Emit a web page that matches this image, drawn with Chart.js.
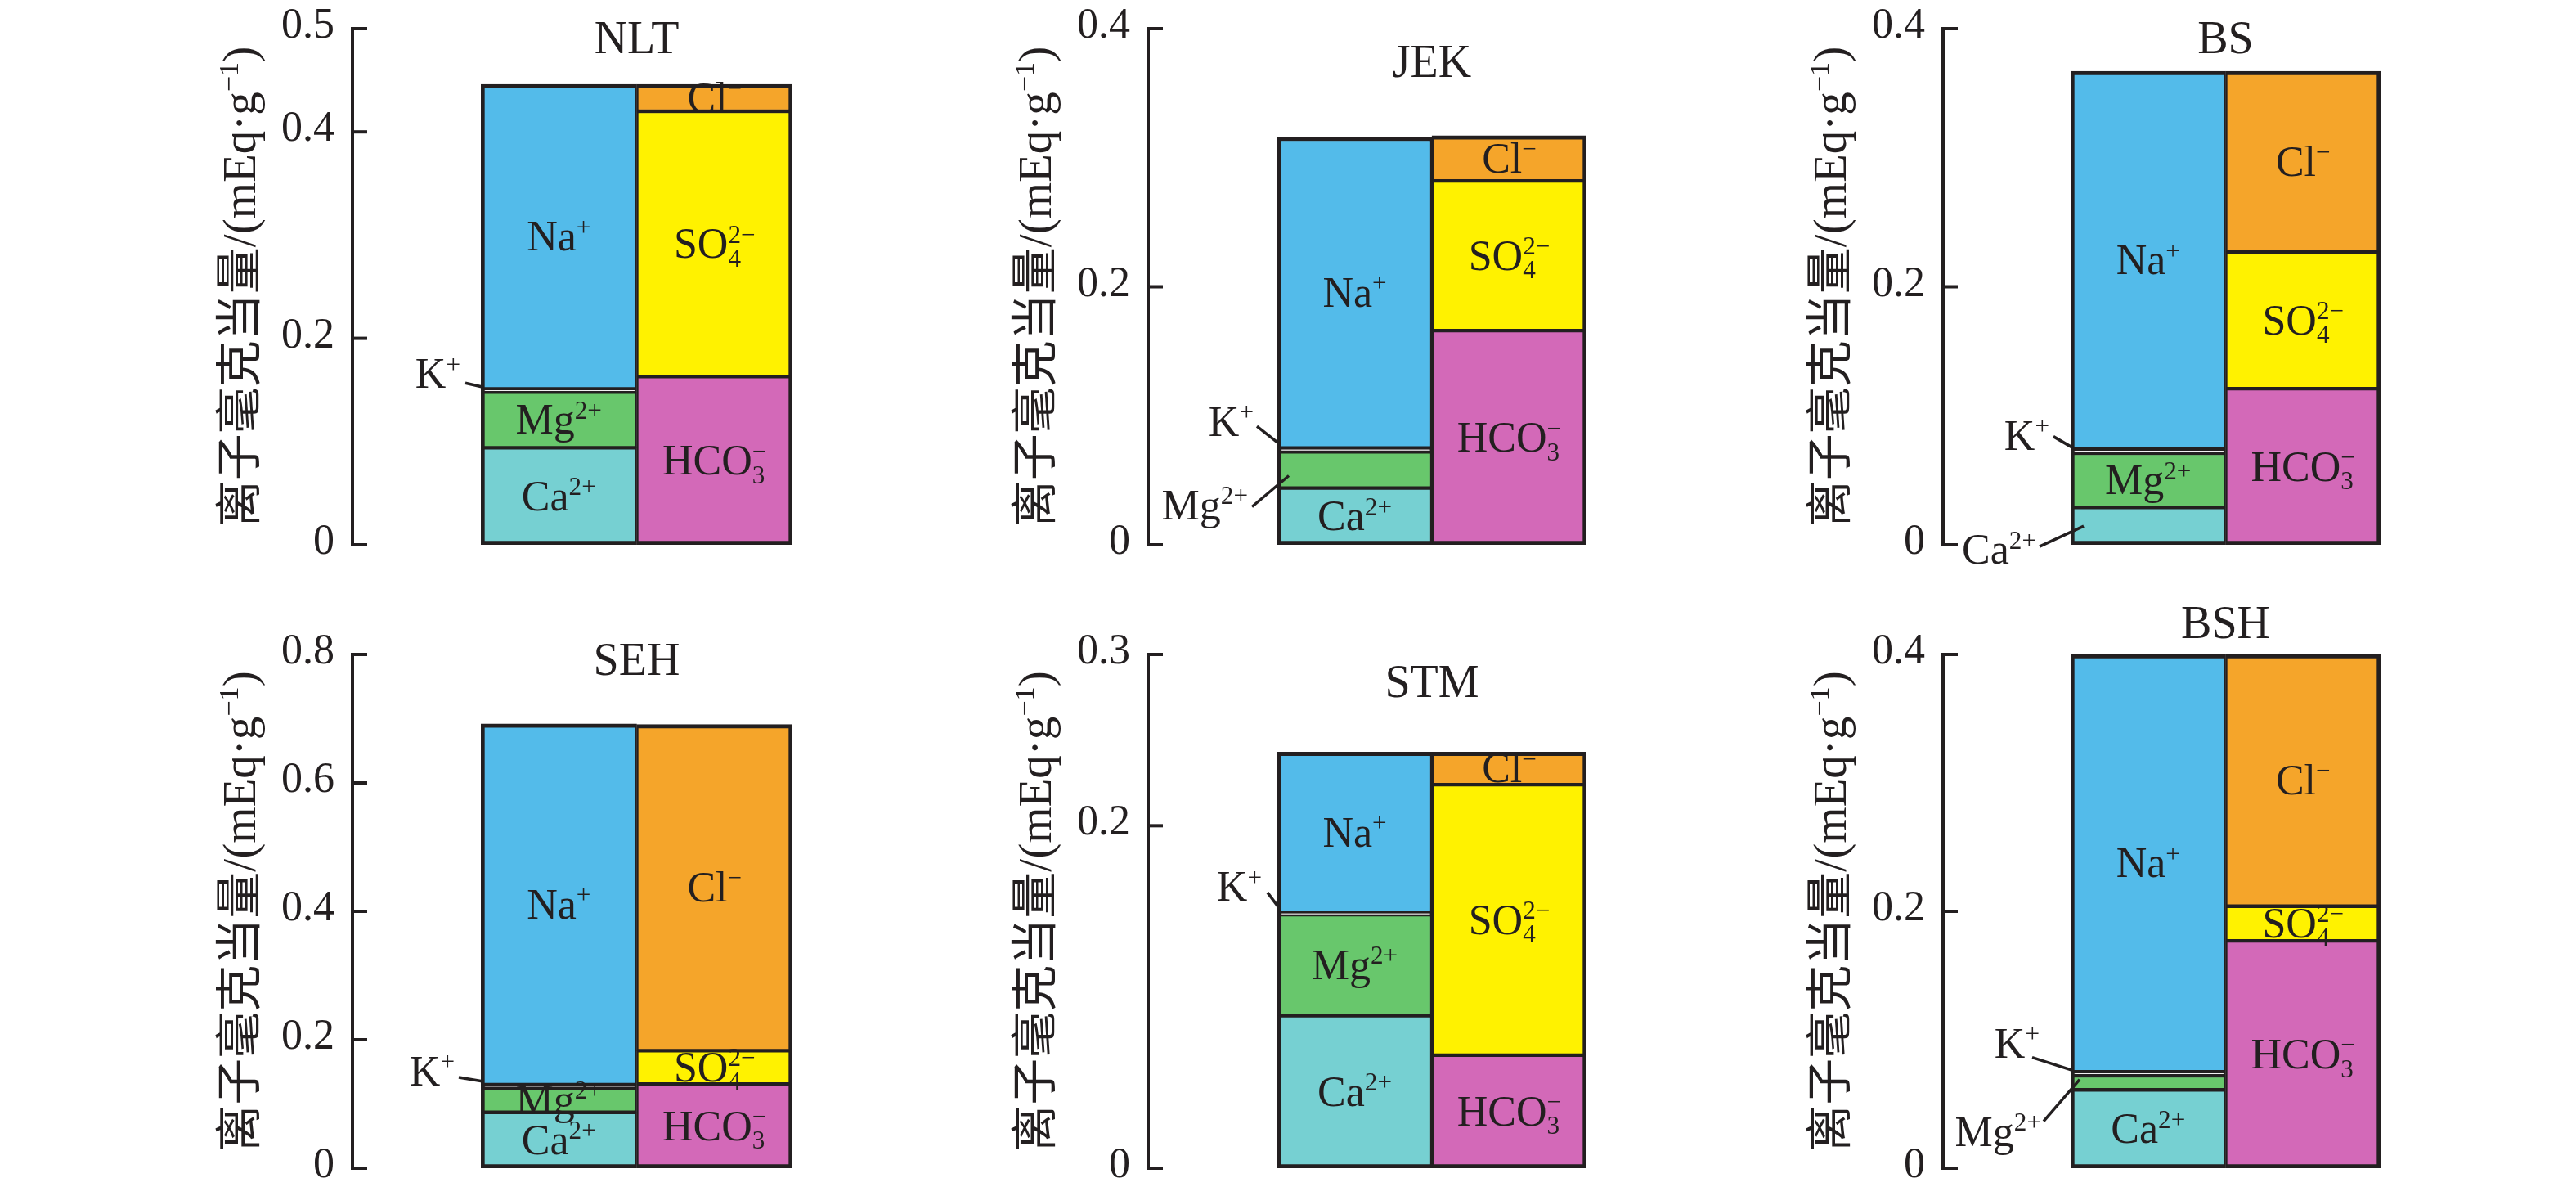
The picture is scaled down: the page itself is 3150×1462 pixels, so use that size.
<!DOCTYPE html>
<html>
<head>
<meta charset="utf-8">
<script src="https://cdn.jsdelivr.net/npm/chart.js@4.4.1/dist/chart.umd.min.js"></script>
<style>
  html, body { margin: 0; padding: 0; background: #fff; }
  #wrap { position: relative; width: 3150px; height: 1462px; }
  #wrap canvas { position: absolute; }
</style>
</head>
<body>
<div id="wrap"></div>
<script>
// one panel per site
const sites = ['NLT', 'JEK', 'BS', 'SEH', 'STM', 'BSH'];

// cations, bottom to top (mEq/g)
const ca = [0.094, 0.044, 0.029, 0.087, 0.089, 0.061];
const mg = [0.054, 0.028, 0.042, 0.038, 0.059, 0.011];
const k  = [0.003, 0.003, 0.003, 0.005, 0.001, 0.003];
const na = [0.295, 0.241, 0.293, 0.562, 0.094, 0.325];

// anions, bottom to top (mEq/g)
const hco3 = [0.163, 0.166, 0.121, 0.131, 0.066, 0.177];
const so4  = [0.257, 0.116, 0.106, 0.052, 0.158, 0.027];
const cl   = [0.026, 0.035, 0.140, 0.508, 0.019, 0.196];

// y tick labels of each panel
const yTicks = [
  [0, 0.2, 0.4, 0.5],
  [0, 0.2, 0.4],
  [0, 0.2, 0.4],
  [0, 0.2, 0.4, 0.6, 0.8],
  [0, 0.2, 0.3],
  [0, 0.2, 0.4]
];

const ionKeys  = ['Ca', 'Mg', 'K', 'Na', 'HCO3', 'SO4', 'Cl'];
const ionNames = ['Ca^{2+}', 'Mg^{2+}', 'K^{+}', 'Na^{+}', 'HCO_{3}^{\u2212}', 'SO_{4}^{2\u2212}', 'Cl^{\u2212}'];
const colors   = ['#76d0d2', '#68c76c', '#ffffff', '#53bbea', '#d369b8', '#fff200', '#f5a52a'];
const yTitle = '离子毫克当量/(mEq·g^{\u22121})';
const ink = '#231f20';

// page layout of each panel (pixels)
const boxes = [
  { axisX: 431,  left: 588,  right: 969,  top: 35,  zero: 666,  titleY: 47 },
  { axisX: 1404, left: 1562, right: 1940, top: 35,  zero: 666,  titleY: 76 },
  { axisX: 2376, left: 2532, right: 2911, top: 35,  zero: 666,  titleY: 47 },
  { axisX: 431,  left: 588,  right: 969,  top: 800, zero: 1428, titleY: 807 },
  { axisX: 1404, left: 1562, right: 1940, top: 800, zero: 1428, titleY: 834 },
  { axisX: 2376, left: 2532, right: 2911, top: 800, zero: 1428, titleY: 762 }
];

// labels placed outside the bar with a leader line:
// [text right dx, text dy, line from dx, dy, line to dx, dy] from the bar's left edge at segment middle
const callouts = [
  { K: [-25, -20, -19, -9, 3, -4] },
  { K: [-29, -34, -25, -29, 3, -7], Mg: [-36, 43, -31, 45, 14, 7] },
  { K: [-26, -19, -21, -18, 3, -4], Ca: [-42, 29, -38, 25, 16, 0] },
  { K: [-32, -18, -27, -11, 3, -6] },
  { K: [-19, -33, -12, -26, 3, -6] },
  { K: [-38, -37, -47, -20, 3, -4], Mg: [-36, 60, -33, 47, 11, -4] }
];

function font(size) {
  return size + 'px "Liberation Serif", "Noto Sans CJK SC", serif';
}

// tiny markup: ^{..} superscript, _{..} subscript (stacked if adjacent)
function layoutRich(ctx, s, size) {
  const re = /([\^_])\{([^}]*)\}|([^\^_]+)/g;
  let m, x = 0, prev = null, sStart = 0, sW = 0;
  const items = [];
  while ((m = re.exec(s))) {
    if (m[3] !== undefined) {
      ctx.font = font(size);
      items.push({ t: m[3], x: x, dy: 0, size: size });
      x += ctx.measureText(m[3]).width;
      prev = null;
    } else {
      const kind = m[1] === '^' ? 'sup' : 'sub';
      const ss = size * 0.6;
      ctx.font = font(ss);
      const w = ctx.measureText(m[2]).width;
      let sx = x;
      if (prev && prev !== kind) {
        sx = sStart;
        x = sStart + Math.max(sW, w);
      } else {
        sStart = x; sW = w; x += w;
      }
      items.push({ t: m[2], x: sx, dy: kind === 'sup' ? -size * 0.36 : size * 0.2, size: ss });
      prev = kind;
    }
  }
  return { items: items, width: x };
}

function drawRich(ctx, s, x, y, size, align) {
  const L = layoutRich(ctx, s, size);
  let x0 = x;
  if (align === 'center') x0 = x - L.width / 2;
  if (align === 'right') x0 = x - L.width;
  const base = y + size * 0.33;
  ctx.textAlign = 'left';
  ctx.textBaseline = 'alphabetic';
  L.items.forEach(function (it) {
    ctx.font = font(it.size);
    ctx.fillText(it.t, x0 + it.x, base + it.dy);
  });
}

function makePlugin(p) {
  const b = boxes[p];
  return {
    id: 'ionPanel' + p,
    afterDatasetsDraw: function (chart) {
      const ctx = chart.ctx;
      const ys = chart.scales.y;
      const area = chart.chartArea;
      const ax = area.left - (b.left - b.axisX);
      const ticks = yTicks[p];
      ctx.save();
      ctx.strokeStyle = ink;
      ctx.fillStyle = ink;
      ctx.lineWidth = 4;

      // axis with inward ticks
      const yMin = ys.getPixelForValue(ticks[0]);
      const yMax = ys.getPixelForValue(ticks[ticks.length - 1]);
      ctx.beginPath();
      ctx.moveTo(ax, yMin + 2);
      ctx.lineTo(ax, yMax - 2);
      ctx.stroke();
      ticks.forEach(function (v) {
        const ty = ys.getPixelForValue(v);
        ctx.beginPath();
        ctx.moveTo(ax - 2, ty);
        ctx.lineTo(ax + 18, ty);
        ctx.stroke();
        drawRich(ctx, String(v), ax - 22, ty - 6, 52, 'right');
      });

      // rotated axis title
      ctx.save();
      ctx.translate(ax - 138, (yMin + yMax) / 2);
      ctx.rotate(-Math.PI / 2);
      drawRich(ctx, yTitle, 0, 0, 57, 'center');
      ctx.restore();

      // site name over the divider
      const mid = (area.left + area.right) / 2;
      drawRich(ctx, sites[p], mid, b.titleY - (b.top - area.top), 56, 'center');

      // segment labels
      chart.data.datasets.forEach(function (ds, i) {
        const idx = i < 4 ? 0 : 1;
        const el = chart.getDatasetMeta(i).data[idx];
        if (!el) return;
        const cy = (el.y + el.base) / 2;
        const co = callouts[p][ionKeys[i]];
        if (co) {
          const x0 = el.x - el.width / 2;
          ctx.lineWidth = 3.5;
          ctx.beginPath();
          ctx.moveTo(x0 + co[2], cy + co[3]);
          ctx.lineTo(x0 + co[4], cy + co[5]);
          ctx.stroke();
          drawRich(ctx, ionNames[i], x0 + co[0], cy + co[1], 52, 'right');
        } else {
          drawRich(ctx, ionNames[i], el.x, cy, 52, 'center');
        }
      });
      ctx.restore();
    }
  };
}

const wrap = document.getElementById('wrap');
const cation = [ca, mg, k, na];
const anion = [hco3, so4, cl];

sites.forEach(function (site, p) {
  const b = boxes[p];
  const col = p % 3, row = Math.floor(p / 3);
  const cl0 = col * 1050, ct0 = row * 731;
  const cv = document.createElement('canvas');
  cv.width = 1050; cv.height = 731;
  cv.style.left = cl0 + 'px';
  cv.style.top = ct0 + 'px';
  wrap.appendChild(cv);

  const datasets = [];
  cation.forEach(function (arr, j) {
    datasets.push({
      label: ionNames[j],
      data: [arr[p], null],
      backgroundColor: colors[j],
      borderColor: ink,
      borderWidth: { left: 5, right: 2.5, top: j === 3 ? 5 : 2.5, bottom: j === 0 ? 5 : 2.5 },
      borderSkipped: false
    });
  });
  anion.forEach(function (arr, j) {
    datasets.push({
      label: ionNames[4 + j],
      data: [null, arr[p]],
      backgroundColor: colors[4 + j],
      borderColor: ink,
      borderWidth: { left: 2.5, right: 5, top: j === 2 ? 5 : 2.5, bottom: j === 0 ? 5 : 2.5 },
      borderSkipped: false
    });
  });

  new Chart(cv.getContext('2d'), {
    type: 'bar',
    data: { labels: ['cation', 'anion'], datasets: datasets },
    options: {
      responsive: false,
      animation: false,
      devicePixelRatio: 1,
      layout: {
        padding: {
          left: b.left - cl0,
          right: cl0 + 1050 - b.right,
          top: b.top - ct0,
          bottom: ct0 + 731 - b.zero
        }
      },
      datasets: { bar: { barPercentage: 1, categoryPercentage: 1 } },
      plugins: { legend: { display: false }, tooltip: { enabled: false } },
      scales: {
        x: { display: false, stacked: true },
        y: { display: false, stacked: true, min: 0, max: yTicks[p][yTicks[p].length - 1] }
      }
    },
    plugins: [makePlugin(p)]
  });
});
</script>
</body>
</html>
